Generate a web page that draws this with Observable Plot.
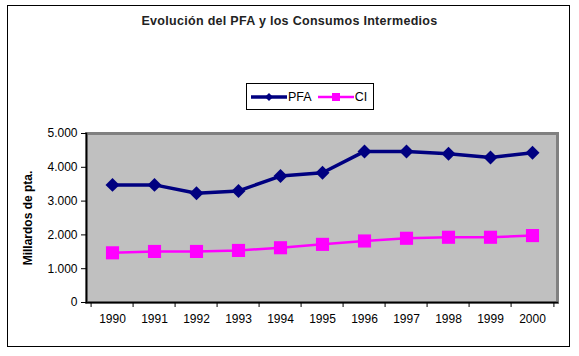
<!DOCTYPE html>
<html>
<head>
<meta charset="utf-8">
<script src="https://cdn.jsdelivr.net/npm/d3@7"></script>
<script src="https://cdn.jsdelivr.net/npm/@observablehq/plot@0.6"></script>
<style>
  html, body { margin: 0; padding: 0; background: #fff; }
  #wrap { position: relative; width: 579px; height: 356px; font-family: Arial, "Liberation Sans", sans-serif; }
  #border { position: absolute; left: 7px; top: 5px; width: 563px; height: 342px; border: 1px solid #000; box-sizing: border-box; }
  #title { position: absolute; left: 0; width: 579px; top: 14px; text-align: center; font-weight: bold; font-size: 12.5px; letter-spacing: 0.3px; color: #222; }
  #legend { position: absolute; left: 246px; top: 83px; width: 128px; height: 27px; border: 1px solid #000; box-sizing: border-box; display: flex; align-items: center; font-size: 12.5px; color: #000; background: #fff; }
  #legend svg { display: block; }
  #chart { position: absolute; left: 0; top: 0; }
</style>
</head>
<body>
<div id="wrap">
  <div id="border"></div>
  <div id="chart"></div>
  <div id="title"></div>
  <div id="legend"></div>
</div>
<script>
const titleText = "Evolución del PFA y los Consumos Intermedios";
const yLabel = "Millardos de pta.";
const years = ["1990","1991","1992","1993","1994","1995","1996","1997","1998","1999","2000"];
const pfa = [3480, 3480, 3230, 3300, 3740, 3840, 4470, 4470, 4400, 4290, 4430];
const ci  = [1470, 1510, 1510, 1540, 1620, 1720, 1820, 1900, 1930, 1930, 1980];
const seriesNames = ["PFA", "CI"];
const seriesColors = ["#000080", "#FF00FF"];
const yTicks = [0, 1000, 2000, 3000, 4000, 5000];

const rows = [];
years.forEach((yr, i) => {
  rows.push({year: yr, value: pfa[i], series: "PFA"});
  rows.push({year: yr, value: ci[i], series: "CI"});
});
const pfaRows = rows.filter(d => d.series === "PFA");
const ciRows = rows.filter(d => d.series === "CI");

const W = 579, H = 356;
const mL = 86, mR = 22, mT = 133, mB = 54;
const step = (W - mL - mR) / years.length;
const fmt = d => d === 0 ? "0" : d3.format(",")(d).replace(/,/g, ".");

const chart = Plot.plot({
  width: W, height: H,
  marginLeft: mL, marginRight: mR, marginTop: mT, marginBottom: mB,
  style: {fontFamily: "Arial, 'Liberation Sans', sans-serif", fontSize: "12px", color: "#000", background: "transparent"},
  x: {type: "point", domain: years, padding: 0.5, axis: null, label: null},
  y: {domain: [0, 5000], axis: null, label: null},
  marks: [
    Plot.frame({fill: "#C0C0C0", stroke: "#808080", strokeWidth: 3}),
    Plot.frame({anchor: "left", stroke: "#000", strokeWidth: 1.5}),
    Plot.frame({anchor: "bottom", stroke: "#000", strokeWidth: 1.5}),
    Plot.axisY({ticks: yTicks, tickSize: 5, tickPadding: 4, tickFormat: fmt, fontSize: 12, stroke: "#000", label: null}),
    Plot.axisX({ticks: years, tickSize: 5, text: null, dx: -step / 2, stroke: "#000", label: null}),
    Plot.axisX({ticks: [years[years.length - 1]], tickSize: 5, text: null, dx: step / 2, stroke: "#000", label: null}),
    Plot.axisX({ticks: years, tickSize: 0, tickPadding: 12, fontSize: 12, label: null}),
    Plot.text([yLabel], {frameAnchor: "left", textAnchor: "middle", rotate: -90, dx: -58, fontWeight: "bold", fontSize: 12, fill: "#000"}),
    Plot.line(ciRows, {x: "year", y: "value", stroke: seriesColors[1], strokeWidth: 2.5}),
    Plot.dot(ciRows, {x: "year", y: "value", symbol: "square", r: 7.4, fill: seriesColors[1], stroke: "none"}),
    Plot.line(pfaRows, {x: "year", y: "value", stroke: seriesColors[0], strokeWidth: 3.5}),
    Plot.dot(pfaRows, {x: "year", y: "value", symbol: "diamond2", r: 6.3, fill: seriesColors[0], stroke: "none"})
  ]
});
document.getElementById("chart").appendChild(chart);
document.getElementById("title").textContent = titleText;

// legend
const legend = d3.select("#legend");
seriesNames.forEach((name, i) => {
  const sw = legend.append("svg").attr("width", 36).attr("height", 12)
    .style("margin-left", i === 0 ? "4px" : "6px");
  sw.append("line").attr("x1", 0).attr("x2", 36).attr("y1", 6).attr("y2", 6)
    .attr("stroke", seriesColors[i]).attr("stroke-width", i === 0 ? 3.5 : 2.5);
  if (i === 0) {
    sw.append("path").attr("d", d3.symbol(d3.symbolDiamond2, 40)()).attr("transform", "translate(18,6)").attr("fill", seriesColors[i]);
  } else {
    sw.append("rect").attr("x", 14).attr("y", 2).attr("width", 8).attr("height", 8).attr("fill", seriesColors[i]);
  }
  legend.append("span").text(name).style("margin-left", "1px");
});
</script>
</body>
</html>
